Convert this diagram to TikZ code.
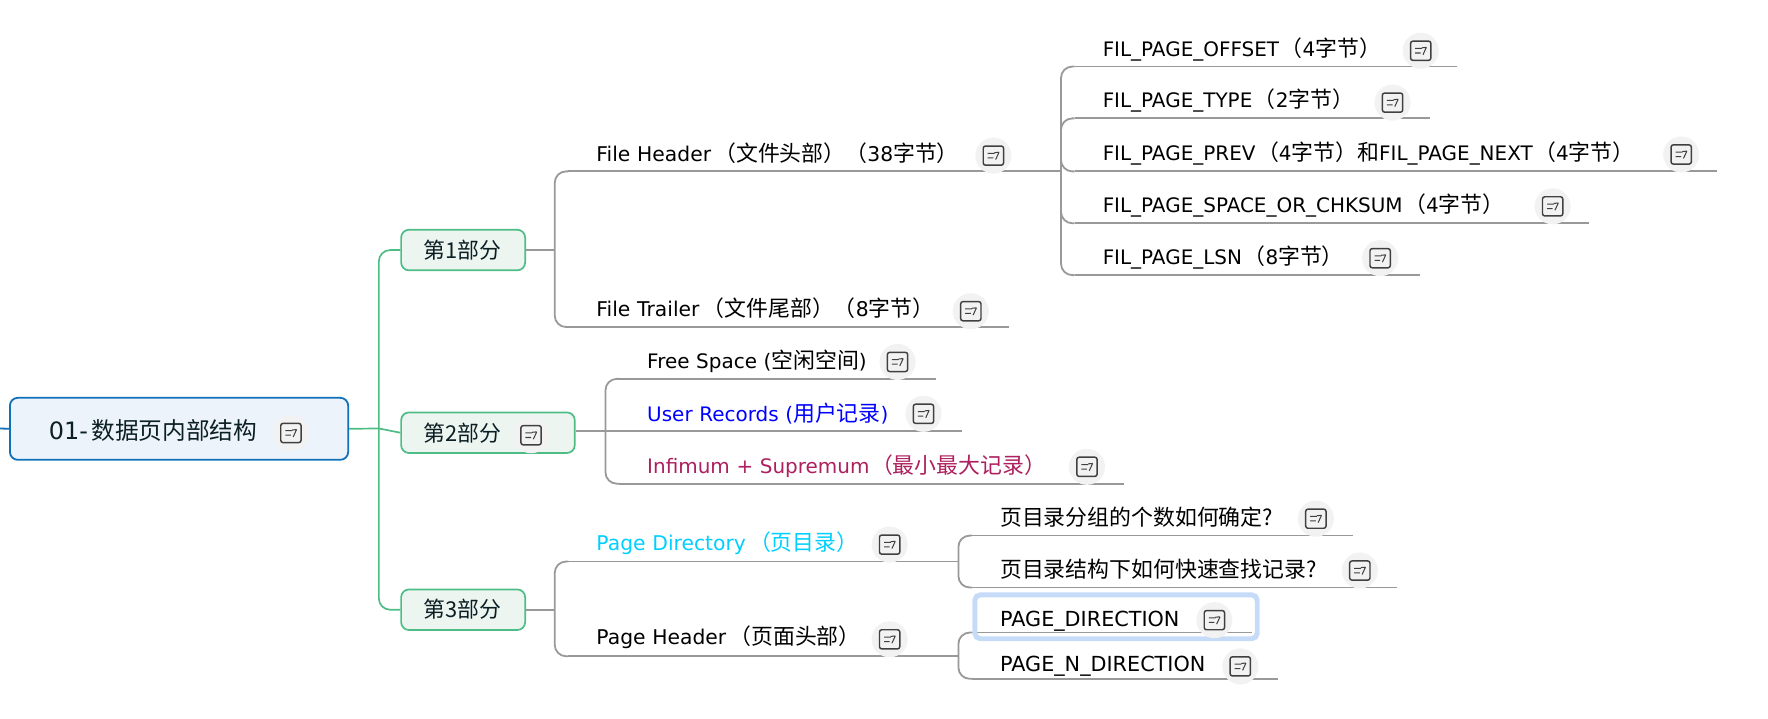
\documentclass[tikz,border=0pt]{standalone}
\usepackage{fontspec}
\setmainfont{DejaVu Sans}
\newfontfamily\cjk{Noto Sans CJK SC}
\newcommand{\C}[1]{{\cjk\fontsize{9.7}{10}\selectfont #1}}
\newcommand{\RC}[1]{{\cjk\fontsize{10.5}{11}\selectfont #1}}
\newcommand{\LP}{\kern1.4pt\C{（}}
\newcommand{\LPs}{\kern0.7pt\C{（}}
\usetikzlibrary{calc}
\definecolor{linegrey}{HTML}{999999}
\definecolor{rootblue}{HTML}{1070B8}
\definecolor{rootfill}{HTML}{EDF3FB}
\definecolor{secgreen}{HTML}{4DBD85}
\definecolor{secfill}{HTML}{EDF5F0}
\definecolor{inktext}{HTML}{0B1F24}
\definecolor{iconbgc}{HTML}{F2F2F2}
\definecolor{iconink}{HTML}{404040}
\definecolor{selblue}{HTML}{C5DBF7}
\definecolor{magentat}{HTML}{AD1F5E}
\definecolor{cyant}{HTML}{00CFFF}
\tikzset{
  x=0.5pt,y=-0.5pt,
  rootbox/.style={draw=rootblue,fill=rootfill,line width=0.8pt,rounded corners=3.5pt,inner sep=0pt,anchor=north west},
  secbox/.style={draw=secgreen,fill=secfill,line width=0.75pt,rounded corners=3.5pt,inner sep=0pt,anchor=north west},
  seclabel/.style={text=inktext,anchor=west,inner sep=0pt},
  greenline/.style={draw=secgreen,line width=0.75pt,rounded corners=5pt},
  greyline/.style={draw=linegrey,line width=0.8pt,rounded corners=5pt},
  leafbox/.style={inner sep=0pt,outer sep=0pt,anchor=south west,minimum height=15.5pt,align=left,font=\fontsize{8.85}{10}\selectfont},
  mixedcase/.style={font=\fontsize{9}{10}\selectfont,minimum height=16.5pt},
  cjkcase/.style={minimum height=16.5pt},
  capscase/.style={font=\fontsize{9.2}{10}\selectfont,minimum height=11pt},
  iconbg/.style={circle,fill=iconbgc,minimum size=16pt,inner sep=0pt},
  iconmark/.style={draw=iconink,line width=0.65pt,rounded corners=1pt},
  iconstroke/.style={draw=iconink,line width=0.45pt},
}
% \topicbox{name}{x0}{ybottom}{x1}{options}{text}
\newcommand{\topicbox}[6]{%
  \pgfmathsetlengthmacro{\tw}{(#4-#2)*0.5}%
  \node[leafbox,text width=\tw,minimum width=\tw,#5] (#1) at (#2,#3) {\hspace*{18.5pt}#6};%
  \draw[linegrey,line width=0.8pt] ($(#1.south west)+(12,0)$) -- (#1.south east);%
}
% \noteicon{name}{x}{y}
\newcommand{\noteicon}[3]{%
  \node[iconbg] (#1) at (#2,#3) {};%
  \draw[iconmark] ($(#1)+(-9,-8.5)$) rectangle ($(#1)+(9,8.5)$);%
  \draw[iconstroke] ($(#1)+(-5,-2)$) -- ($(#1)+(1,-2)$) ($(#1)+(-5,2)$) -- ($(#1)+(0,2)$) ($(#1)+(2,3.5)$) -- ($(#1)+(5,-3)$) ($(#1)+(1,-2.6)$) -- ($(#1)+(5,-3)$);%
}
% \bracketlink{parent-point}{child}: a rounded branch from a parent point to a child's underline
\newcommand{\bracketlink}[2]{%
  \draw[greyline] (#1) -- (#2.south west) -- ($(#2.south west)+(12,0)$);%
}
\begin{document}
\begin{tikzpicture}
\useasboundingbox (0,0) rectangle (1568,637);

% topics
\topicbox{fh}{492}{152}{941}{mixedcase}{File Header\LP\C{文件头部）（}38\C{字节）}}
\topicbox{ft}{492}{290}{895}{mixedcase}{File Trailer\LP\C{文件尾部）（}8\C{字节）}}
\topicbox{fo}{941}{59}{1292}{}{FIL\_PAGE\_OFFSET\LPs{}4\C{字节）}}
\topicbox{fty}{941}{105}{1268}{}{FIL\_PAGE\_TYPE\LPs{}2\C{字节）}}
\topicbox{fp}{941}{152}{1523}{}{FIL\_PAGE\_PREV\LPs{}4\C{字节）和}FIL\_PAGE\_NEXT\LPs{}4\C{字节）}}
\topicbox{fs}{941}{198}{1409}{}{FIL\_PAGE\_SPACE\_OR\_CHKSUM\LPs{}4\C{字节）}}
\topicbox{fl}{941}{244}{1259}{}{FIL\_PAGE\_LSN\LPs{}8\C{字节）}}
\topicbox{fr}{537}{336}{830}{}{Free Space (\C{空闲空间})}
\topicbox{ur}{537}{382}{853}{text=blue}{User Records (\C{用户记录})}
\topicbox{is}{537}{429}{997}{text=magentat}{Infimum + Supremum\LPs\C{最小最大记录）}}
\topicbox{pd}{492}{498}{850}{mixedcase,text=cyant}{Page Directory\LP\C{页目录）}}
\topicbox{ph}{492}{582}{850}{mixedcase}{Page Header\LP\C{页面头部）}}
\topicbox{g1}{850}{475}{1200}{cjkcase}{\C{页目录分组的个数如何确定?}}
\topicbox{g2}{850}{521}{1239}{cjkcase}{\C{页目录结构下如何快速查找记录?}}
\topicbox{pg}{850}{561}{1110}{capscase,minimum height=10pt}{PAGE\_DIRECTION}
\topicbox{pn}{850}{602}{1133}{capscase}{PAGE\_N\_DIRECTION}

% sections and root
\node[rootbox,minimum width=150pt,minimum height=27.5pt] (root) at (8,352) {};
\node[seclabel,font=\fontsize{10.6}{11}\selectfont] (rootlabel) at (43,382) {01-\kern1.5pt\RC{数据页内部结构}};
\node[secbox,minimum width=55pt,minimum height=18pt] (s1) at (355,203) {};
\node[seclabel] (s1label) at (375,222) {\C{第1部分}};
\node[secbox,minimum width=77pt,minimum height=18pt] (s2) at (355,365) {};
\node[seclabel] (s2label) at (375,384) {\C{第2部分}};
\node[secbox,minimum width=55pt,minimum height=18pt] (s3) at (355,522) {};
\node[seclabel] (s3label) at (375,540) {\C{第3部分}};

% connectors
\coordinate (stub) at (0,380);
\coordinate (hub) at (336,380);
\draw[rootblue,line width=0.8pt] (stub) -- (root.west);
\draw[greenline] (s1.west) -- (hub |- s1.west) -- (hub |- s3.west) -- (s3.west);
\draw[secgreen,line width=0.75pt] (root.east) -- (hub) -- (s2.west);
% section 1
\draw[greyline] (s1.east) -- (fh.south west |- s1.east);
\draw[greyline] ($(fh.south west)+(12,0)$) -- (fh.south west) -- (ft.south west) -- ($(ft.south west)+(12,0)$);
% section 2
\draw[greyline] (s2.east |- ur.south west) -- (ur.south west) -- ($(ur.south west)+(12,0)$);
\draw[greyline] ($(fr.south west)+(12,0)$) -- (fr.south west) -- (is.south west) -- ($(is.south west)+(12,0)$);
% section 3
\draw[greyline] (s3.east) -- (pd.south west |- s3.east);
\draw[greyline] ($(pd.south west)+(12,0)$) -- (pd.south west) -- (ph.south west) -- ($(ph.south west)+(12,0)$);
% file header children
\draw[greyline] ($(fo.south west)+(12,0)$) -- (fo.south west) -- (fl.south west) -- ($(fl.south west)+(12,0)$);
\bracketlink{fh.south east}{fty}
\bracketlink{fh.south east}{fs}
\draw[greyline] (fh.south east) -- (fp.south west) -- ($(fp.south west)+(12,0)$);
% page directory and header children
\draw[greyline] ($(g1.south west)+(12,0)$) -- (g1.south west) -- (g2.south west) -- ($(g2.south west)+(12,0)$);
\draw[greyline] ($(pg.south west)+(12,0)$) -- (pg.south west) -- (pn.south west) -- ($(pn.south west)+(12,0)$);

% selection frame
\draw[selblue,line width=2.2pt,rounded corners=2.5pt] (864.5,527.5) rectangle (1115,566.5);
\draw[linegrey,line width=0.8pt] ($(pg.south west)+(17,0)$) -- (pg.south east);

% icons
\noteicon{i0}{258}{384}
\noteicon{i1}{471}{386}
\noteicon{i2}{881}{138}
\noteicon{i3}{861}{276}
\noteicon{i4}{1260}{45}
\noteicon{i5}{1235}{91}
\noteicon{i6}{1491}{137}
\noteicon{i7}{1377}{183}
\noteicon{i8}{1224}{229}
\noteicon{i9}{796}{321}
\noteicon{i10}{819}{367}
\noteicon{i11}{964}{414}
\noteicon{i12}{789}{483}
\noteicon{i13}{789}{567}
\noteicon{i14}{1167}{460}
\noteicon{i15}{1206}{506}
\noteicon{i16}{1077}{550}
\noteicon{i17}{1100}{591}
\end{tikzpicture}
\end{document}
